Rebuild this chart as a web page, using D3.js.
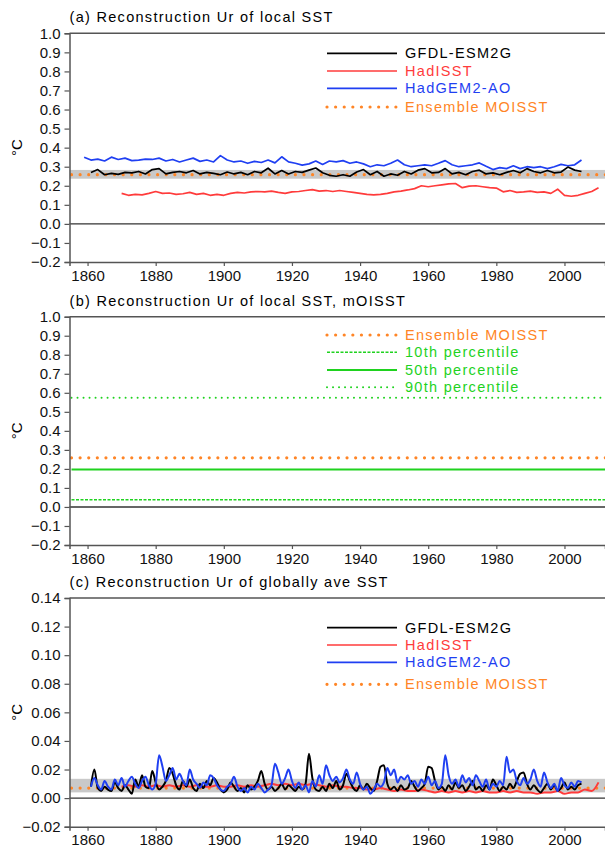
<!DOCTYPE html>
<html>
<head>
<meta charset="utf-8">
<script src="https://cdn.jsdelivr.net/npm/d3@7"></script>
<style>
body { margin: 0; background: #fff; }
text { font-family: "Liberation Sans", Arial, sans-serif; }
</style>
</head>
<body>
<svg width="605" height="849"></svg>
<script>
// ---- data ----
// panel (a): local SST reconstruction Ur, 2-year steps
var gfdlA_start = 1861, gfdlA_step = 2;
var gfdlA = [0.27,0.285,0.258,0.265,0.26,0.27,0.268,0.275,0.262,0.285,0.29,0.262,0.27,0.275,0.268,0.28,0.262,0.27,0.265,0.258,
  0.272,0.262,0.27,0.258,0.275,0.268,0.292,0.262,0.28,0.262,0.275,0.27,0.282,0.293,0.268,0.255,0.25,0.258,0.25,0.272,
  0.285,0.258,0.275,0.25,0.262,0.255,0.275,0.262,0.282,0.29,0.268,0.27,0.29,0.262,0.27,0.258,0.275,0.282,0.262,0.268,
  0.258,0.27,0.28,0.268,0.29,0.275,0.268,0.28,0.268,0.272,0.298,0.282,0.275];
var hadgemA_start = 1859, hadgemA_step = 2;
var hadgemA = [0.35,0.335,0.34,0.33,0.35,0.338,0.345,0.332,0.335,0.34,0.338,0.345,0.33,0.338,0.325,0.335,0.345,0.328,0.335,0.325,
  0.358,0.335,0.325,0.33,0.318,0.328,0.322,0.335,0.32,0.352,0.325,0.318,0.308,0.315,0.33,0.312,0.33,0.325,0.332,0.318,
  0.325,0.315,0.3,0.31,0.305,0.318,0.335,0.31,0.3,0.305,0.31,0.305,0.318,0.332,0.31,0.3,0.305,0.31,0.32,0.302,
  0.285,0.295,0.29,0.305,0.29,0.3,0.295,0.3,0.29,0.3,0.312,0.305,0.31,0.335];
var hadisstA_start = 1870, hadisstA_step = 2;
var hadisstA = [0.16,0.15,0.155,0.152,0.16,0.17,0.16,0.162,0.155,0.158,0.165,0.155,0.16,0.15,0.155,0.15,0.16,0.165,0.162,0.168,
  0.17,0.168,0.172,0.165,0.16,0.168,0.17,0.175,0.18,0.172,0.175,0.17,0.175,0.17,0.165,0.16,0.155,0.152,0.155,0.16,
  0.168,0.172,0.178,0.185,0.2,0.195,0.2,0.205,0.21,0.212,0.19,0.198,0.2,0.195,0.19,0.188,0.168,0.175,0.165,0.168,
  0.172,0.165,0.168,0.16,0.182,0.15,0.145,0.15,0.16,0.17,0.19];
var ensA = 0.258, ensBandA = [0.237, 0.283];

// panel (b): mOISST percentiles
var ensB = 0.258;
var pct10 = 0.038, pct50 = 0.197, pct90 = 0.574;

// panel (c): globally averaged SST, annual
var gfdlC_start = 1861, gfdlC_step = 1;
var gfdlC = [0.008,0.020,0.007,0.005,0.008,0.006,0.005,0.011,0.007,0.005,0.009,0.006,0.003,0.013,0.008,0.016,0.008,0.007,0.019,0.011,
  0.006,0.008,0.012,0.021,0.017,0.009,0.006,0.012,0.008,0.013,0.007,0.005,0.010,0.007,0.012,0.009,0.014,0.011,0.006,0.004,
  0.006,0.011,0.008,0.005,0.007,0.004,0.009,0.006,0.008,0.012,0.019,0.010,0.006,0.008,0.005,0.007,0.010,0.006,0.009,0.007,
  0.005,0.008,0.006,0.010,0.031,0.014,0.006,0.005,0.008,0.005,0.010,0.007,0.012,0.006,0.009,0.017,0.012,0.007,0.005,0.009,
  0.006,0.010,0.007,0.005,0.012,0.022,0.023,0.010,0.006,0.008,0.005,0.009,0.006,0.007,0.012,0.008,0.005,0.007,0.010,0.022,
  0.021,0.012,0.006,0.008,0.005,0.009,0.006,0.011,0.007,0.009,0.005,0.008,0.012,0.006,0.008,0.005,0.009,0.006,0.013,0.009,
  0.005,0.008,0.006,0.010,0.007,0.012,0.017,0.018,0.010,0.006,0.009,0.006,0.004,0.007,0.010,0.006,0.009,0.005,0.007,0.011,
  0.006,0.008,0.006,0.009,0.010];
var hadgemC_start = 1861, hadgemC_step = 1;
var hadgemC = [0.008,0.014,0.009,0.006,0.012,0.008,0.006,0.013,0.009,0.014,0.008,0.012,0.015,0.010,0.007,0.012,0.015,0.009,0.006,0.010,
  0.030,0.022,0.012,0.016,0.021,0.013,0.017,0.012,0.009,0.020,0.013,0.010,0.007,0.011,0.009,0.016,0.014,0.009,0.006,0.005,
  0.008,0.010,0.015,0.008,0.005,0.007,0.004,0.008,0.006,0.010,0.007,0.004,0.006,0.009,0.024,0.018,0.010,0.014,0.020,0.012,
  0.007,0.011,0.006,0.009,0.004,0.012,0.008,0.016,0.010,0.023,0.016,0.012,0.015,0.011,0.014,0.020,0.013,0.010,0.018,0.010,
  0.006,0.008,0.003,0.006,0.010,0.008,0.011,0.021,0.016,0.020,0.011,0.015,0.013,0.016,0.010,0.012,0.008,0.013,0.010,0.015,
  0.009,0.012,0.007,0.010,0.030,0.016,0.010,0.013,0.008,0.016,0.011,0.014,0.009,0.016,0.012,0.008,0.013,0.006,0.010,0.008,
  0.012,0.009,0.029,0.018,0.020,0.012,0.009,0.014,0.010,0.013,0.020,0.012,0.008,0.018,0.011,0.007,0.010,0.005,0.014,0.009,
  0.007,0.011,0.008,0.012,0.011];
var hadisstC_start = 1870, hadisstC_step = 2;
var hadisstC = [0.008,0.009,0.008,0.009,0.008,0.009,0.008,0.009,0.008,0.009,0.008,0.009,0.008,0.008,0.009,0.008,0.008,0.009,0.008,0.009,
  0.008,0.009,0.010,0.009,0.010,0.009,0.010,0.009,0.010,0.009,0.008,0.009,0.008,0.008,0.007,0.007,0.006,0.006,0.007,0.006,
  0.005,0.006,0.005,0.005,0.006,0.005,0.004,0.005,0.004,0.005,0.004,0.005,0.004,0.005,0.004,0.004,0.005,0.004,0.005,0.004,
  0.004,0.003,0.004,0.004,0.005,0.003,0.004,0.004,0.006,0.005,0.011];
var ensC = 0.007, ensBandC = [0.004, 0.0135];

var xTicks = [1860, 1880, 1900, 1920, 1940, 1960, 1980, 2000];

// ---- colours ----
var cBlack = "#000000", cRed = "#ff3b3b", cBlue = "#1f3ff2", cOrange = "#ff8526", cGreen = "#1fd21f", cBand = "#c9c9c9";

var svg = d3.select("svg");

// shared x scale (right border of the frame sits at the page edge)
var x = d3.scaleLinear().domain([1854.7, 2011.9]).range([69.5, 605]);

function toPoints(start, step, vals) {
  return vals.map(function(v, i) { return {year: start + i * step, v: v}; });
}

function drawPanel(p) {
  var y = d3.scaleLinear().domain(p.ydom).range([p.bottom, p.top]);
  var g = svg.append("g");
  var line = d3.line().curve(p.curve || d3.curveLinear)
    .x(function(d) { return x(d.year); }).y(function(d) { return y(d.v); });

  // title
  g.append("text")
    .attr("x", 69.5).attr("y", p.top - 16)
    .attr("dy", "0.35em")
    .attr("font-size", 14.5)
    .attr("letter-spacing", 1.3)
    .text(p.title);

  // ensemble spread band
  if (p.band) {
    g.append("rect")
      .attr("x", x.range()[0]).attr("width", x.range()[1] - x.range()[0] + 2)
      .attr("y", y(p.band[1])).attr("height", y(p.band[0]) - y(p.band[1]))
      .attr("fill", cBand);
  }

  // zero line
  g.append("line")
    .attr("x1", x.range()[0]).attr("x2", x.range()[1] + 2)
    .attr("y1", y(0)).attr("y2", y(0))
    .attr("stroke", "#333").attr("stroke-width", 1.4);

  // horizontal reference lines
  p.hlines.forEach(function(h) {
    g.append("line")
      .attr("x1", x.range()[0] + 2).attr("x2", x.range()[1] + 2)
      .attr("y1", y(h.v)).attr("y2", y(h.v))
      .attr("stroke", h.color).attr("stroke-width", h.width)
      .attr("stroke-dasharray", h.dash || null)
      .attr("stroke-linecap", h.cap || "butt");
  });

  // series
  p.series.forEach(function(s) {
    g.append("path")
      .datum(toPoints(s.start, s.step, s.vals))
      .attr("fill", "none")
      .attr("stroke", s.color)
      .attr("stroke-width", p.lineWidth)
      .attr("stroke-linejoin", "round")
      .attr("d", line);
  });

  // frame top
  g.append("line")
    .attr("x1", x.range()[0]).attr("x2", x.range()[1] + 2)
    .attr("y1", p.top).attr("y2", p.top)
    .attr("stroke", "#555").attr("stroke-width", 1.5);

  // axes
  var ya = g.append("g")
    .attr("transform", "translate(" + x.range()[0] + ",0)")
    .call(d3.axisLeft(y).tickValues(p.yticks).tickFormat(d3.format(p.fmt)).tickSize(5).tickPadding(4));
  var xa = g.append("g")
    .attr("transform", "translate(0," + p.bottom + ")")
    .call(d3.axisBottom(x).tickValues(xTicks).tickFormat(d3.format("d")).tickSize(4).tickPadding(4));
  [ya, xa].forEach(function(a) {
    a.select(".domain").attr("stroke", "#555").attr("stroke-width", 1.5);
    a.selectAll(".tick line").attr("stroke", "#555").attr("stroke-width", 1.2);
    a.selectAll("text").attr("font-size", 15).attr("fill", "#111")
      .style("font-family", '"Liberation Sans", Arial, sans-serif');
  });

  // unit label
  g.append("text")
    .attr("transform", "translate(17," + ((p.top + p.bottom) / 2) + ") rotate(-90)")
    .attr("text-anchor", "middle").attr("dy", "0.35em")
    .attr("font-size", 15)
    .text("°C");

  // legend
  var leg = g.append("g");
  p.legend.forEach(function(l, i) {
    var ly = p.legendY[i];
    leg.append("line")
      .attr("x1", 327).attr("x2", 397).attr("y1", ly).attr("y2", ly)
      .attr("stroke", l.color).attr("stroke-width", l.width)
      .attr("stroke-dasharray", l.dash || null)
      .attr("stroke-linecap", l.cap || "butt");
    leg.append("text")
      .attr("x", 405).attr("y", ly).attr("dy", "0.35em")
      .attr("font-size", 14.5).attr("letter-spacing", 1.3)
      .attr("fill", l.color)
      .text(l.name);
  });
}

var dotOrange = {color: cOrange, width: 3.2, dash: "0.01,8.6", cap: "round"};

var ticksA = d3.range(-2, 11).map(function(d) { return d / 10; });
var ticksC = d3.range(-1, 8).map(function(d) { return d / 50; });

drawPanel({
  title: "(a) Reconstruction Ur of local SST",
  top: 33.3, bottom: 262, ydom: [-0.2, 1.0], yticks: ticksA, fmt: ".1f",
  band: ensBandA, lineWidth: 1.7,
  hlines: [Object.assign({v: ensA}, dotOrange)],
  series: [
    {start: hadisstA_start, step: hadisstA_step, vals: hadisstA, color: cRed},
    {start: hadgemA_start, step: hadgemA_step, vals: hadgemA, color: cBlue},
    {start: gfdlA_start, step: gfdlA_step, vals: gfdlA, color: cBlack}
  ],
  legendY: [53.3, 71, 88.3, 107],
  legend: [
    {name: "GFDL-ESM2G", color: cBlack, width: 1.7},
    {name: "HadISST", color: cRed, width: 1.7},
    {name: "HadGEM2-AO", color: cBlue, width: 1.7},
    Object.assign({name: "Ensemble MOISST"}, dotOrange)
  ]
});

drawPanel({
  title: "(b) Reconstruction Ur of local SST, mOISST",
  top: 316.7, bottom: 545, ydom: [-0.2, 1.0], yticks: ticksA, fmt: ".1f",
  band: null, lineWidth: 1.7,
  hlines: [
    {v: pct10, color: cGreen, width: 1.5, dash: "3,1.5"},
    {v: pct50, color: cGreen, width: 2},
    {v: pct90, color: cGreen, width: 2, dash: "0.01,6", cap: "round"},
    Object.assign({v: ensB}, dotOrange)
  ],
  series: [],
  legendY: [335, 352.3, 370, 387.3],
  legend: [
    Object.assign({name: "Ensemble MOISST"}, dotOrange),
    {name: "10th percentile", color: cGreen, width: 1.5, dash: "3,1.5"},
    {name: "50th percentile", color: cGreen, width: 2},
    {name: "90th percentile", color: cGreen, width: 2, dash: "0.01,6", cap: "round"}
  ]
});

drawPanel({
  title: "(c) Reconstruction Ur of globally ave SST",
  top: 598, bottom: 826.7, ydom: [-0.02, 0.14], yticks: ticksC, fmt: ".2f",
  band: ensBandC, lineWidth: 2, curve: d3.curveMonotoneX,
  hlines: [Object.assign({v: ensC}, dotOrange)],
  series: [
    {start: hadisstC_start, step: hadisstC_step, vals: hadisstC, color: cRed},
    {start: gfdlC_start, step: gfdlC_step, vals: gfdlC, color: cBlack},
    {start: hadgemC_start, step: hadgemC_step, vals: hadgemC, color: cBlue}
  ],
  legendY: [627.7, 645, 662.3, 684.3],
  legend: [
    {name: "GFDL-ESM2G", color: cBlack, width: 1.7},
    {name: "HadISST", color: cRed, width: 1.7},
    {name: "HadGEM2-AO", color: cBlue, width: 1.7},
    Object.assign({name: "Ensemble MOISST"}, dotOrange)
  ]
});
</script>
</body>
</html>
